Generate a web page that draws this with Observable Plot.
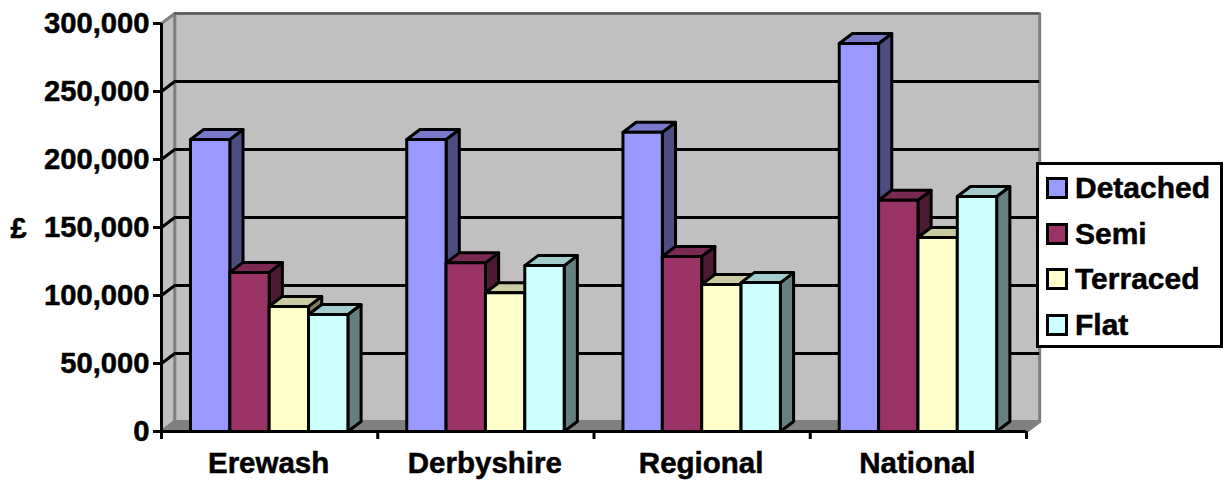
<!DOCTYPE html>
<html>
<head>
<meta charset="utf-8">
<script src="https://cdn.jsdelivr.net/npm/d3@7"></script>
<script src="https://cdn.jsdelivr.net/npm/@observablehq/plot@0.6"></script>
<style>
  html, body { margin: 0; background: #fff; }
  #wrap { position: relative; width: 1223px; height: 480px; overflow: hidden; font: bold 30px "Liberation Sans", Arial, sans-serif; color: #000; }
  #wrap svg text { stroke: #000; stroke-width: 0.5px; }
  #legend { position: absolute; left: 1036px; top: 162px; width: 187px; height: 186px; box-sizing: border-box; background: #fff; border: 3px solid #000; -webkit-text-stroke: 0.5px #000; }
  #legend .row { position: absolute; left: 7px; height: 26px; display: flex; align-items: center; white-space: nowrap; }
  #legend .swatch { width: 22px; height: 22px; box-sizing: border-box; border: 3px solid #000; margin-right: 7px; }
</style>
</head>
<body>
<div id="wrap"></div>
<script>
const categories = ["Erewash", "Derbyshire", "Regional", "National"];
const seriesNames = ["Detached", "Semi", "Terraced", "Flat"];
const detached = [214700, 214700, 220000, 285300];
const semi = [117000, 124000, 128700, 170000];
const terraced = [92000, 102000, 108000, 142600];
const flat = [86000, 122000, 109500, 172800];
const seriesValues = [detached, semi, terraced, flat];
const frontColors = ["#9999ff", "#993366", "#ffffcc", "#ccffff"];
const sideColors = ["#4d4d80", "#4d1a33", "#808066", "#668080"];
const topColors = ["#7a7acc", "#7a2952", "#cccca3", "#a3cccc"];
const yTicks = [0, 50000, 100000, 150000, 200000, 250000, 300000];

// Oblique projection: the chart's depth expressed in data units of each axis.
const depthX = 0.061;
const depthY = 7350;
const barWidth = 0.182;
const groupInset = 0.134;
const yMax = 300000;
const n = categories.length;

// Every face is a closed polygon in data space, drawn back to front.
const polygon = (id, color, points) => points.map(([x, y]) => ({id, color, x, y}));

const walls = [
  ...polygon("back", "#c0c0c0", [[depthX, depthY], [n + depthX, depthY], [n + depthX, yMax + depthY], [depthX, yMax + depthY]]),
  ...polygon("left", "#c0c0c0", [[0, 0], [depthX, depthY], [depthX, yMax + depthY], [0, yMax]]),
  ...polygon("floor", "#808080", [[0, 0], [n, 0], [n + depthX, depthY], [depthX, depthY]])
];

const faces = [];
categories.forEach((category, c) => {
  seriesValues.forEach((values, s) => {
    const v = values[c];
    const x0 = c + groupInset + s * barWidth;
    const x1 = x0 + barWidth;
    const key = `${category}-${seriesNames[s]}`;
    faces.push(
      ...polygon(key + "-side", sideColors[s], [[x1, 0], [x1 + depthX, depthY], [x1 + depthX, v + depthY], [x1, v]]),
      ...polygon(key + "-top", topColors[s], [[x0, v], [x1, v], [x1 + depthX, v + depthY], [x0 + depthX, v + depthY]]),
      ...polygon(key + "-front", frontColors[s], [[x0, 0], [x1, 0], [x1, v], [x0, v]])
    );
  });
});

const chart = Plot.plot({
  width: 1223,
  height: 480,
  marginTop: 23,
  marginBottom: 49,
  marginLeft: 161,
  marginRight: 197,
  style: {background: "transparent", fontFamily: "'Liberation Sans', Arial, sans-serif", fontWeight: "bold", fontSize: "29px", color: "#000", overflow: "visible"},
  x: {domain: [0, n], axis: null},
  y: {domain: [0, yMax], axis: null},
  color: {type: "identity"},
  marks: [
    Plot.line(walls, {x: "x", y: "y", z: "id", fill: "color", stroke: "#808080", strokeWidth: 3, curve: "linear-closed"}),
    Plot.ruleY([yMax], {x1: depthX, x2: n + depthX, y: d => d + depthY, stroke: "#555", strokeWidth: 2}),
    // Gridlines on the back wall, joined to the axis ticks across the side wall.
    Plot.ruleY(yTicks.filter(t => t > 0 && t < yMax), {x1: depthX, x2: n + depthX, y: d => d + depthY, stroke: "#000", strokeWidth: 3}),
    Plot.link(yTicks.filter(t => t > 0 && t < yMax), {x1: 0, x2: depthX, y1: d => d, y2: d => d + depthY, stroke: "#000", strokeWidth: 3}),
    Plot.line(faces, {x: "x", y: "y", z: "id", fill: "color", stroke: "#000", strokeWidth: 3, curve: "linear-closed"}),
    Plot.ruleY([0], {x1: 0, x2: n, stroke: "#000", strokeWidth: 3}),
    Plot.ruleX([0], {y1: 0, y2: yMax, stroke: "#000", strokeWidth: 3}),
    Plot.axisY({ticks: yTicks, tickSize: 8, tickPadding: 4, tickFormat: d3.format(","), strokeWidth: 3, stroke: "#000", label: null, fontSize: 29.2, fontWeight: "bold", fill: "#000", textStroke: "#000"}),
    Plot.axisX({ticks: d3.range(n + 1), tickSize: 8, tickFormat: () => "", strokeWidth: 3, stroke: "#000", label: null}),
    Plot.axisX({ticks: categories.map((_, i) => i + 0.5), tickSize: 0, tickPadding: 21, dx: -1, tickFormat: d => categories[Math.floor(d)], label: null, fontSize: 29.5, fontWeight: "bold", fill: "#000"}),
    Plot.text(["£"], {frameAnchor: "left", dx: -151, dy: 1, textAnchor: "start", fontSize: 29, fontWeight: "bold", fill: "#000"})
  ]
});

const wrap = document.getElementById("wrap");
wrap.appendChild(chart);

// Legend box sits over the right edge of the chart.
const legend = document.createElement("div");
legend.id = "legend";
seriesNames.forEach((name, i) => {
  const row = document.createElement("div");
  row.className = "row";
  row.style.top = `${10 + i * 45.5}px`;
  const swatch = document.createElement("span");
  swatch.className = "swatch";
  swatch.style.background = frontColors[i];
  const label = document.createElement("span");
  label.textContent = name;
  row.append(swatch, label);
  legend.appendChild(row);
});
wrap.appendChild(legend);
</script>
</body>
</html>
